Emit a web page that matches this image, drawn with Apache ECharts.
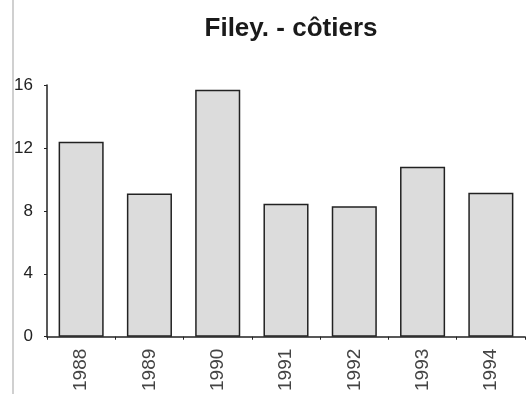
<!DOCTYPE html>
<html>
<head>
<meta charset="utf-8">
<script src="https://cdn.jsdelivr.net/npm/echarts@6/dist/echarts.min.js"></script>
<style>
  html, body { margin: 0; padding: 0; background: #fff; }
  #chart { width: 528px; height: 394px; }
</style>
</head>
<body>
<div id="chart"></div>
<script>
// données
var years = ['1988', '1989', '1990', '1991', '1992', '1993', '1994'];
var values = [12.4, 9.1, 15.7, 8.45, 8.3, 10.8, 9.15];
var yTicks = [0, 4, 8, 12, 16];

var chart = echarts.init(document.getElementById('chart'), null, { renderer: 'canvas' });

var option = {
  backgroundColor: '#fff',
  animation: false,
  title: {
    text: 'Filey. - côtiers',
    left: 286,
    textAlign: 'center',
    top: 11,
    textStyle: {
      fontFamily: 'Liberation Sans, Arial, sans-serif',
      fontWeight: 'bold',
      fontSize: 26,
      color: '#1a1a1a'
    }
  },
  graphic: [{
    // trait gris du bord gauche (scan)
    type: 'line',
    shape: { x1: 13, y1: 0, x2: 13, y2: 394 },
    style: { stroke: '#d0d0d0', lineWidth: 2 }
  }],
  grid: {
    left: 47,
    right: 3,
    top: 85,
    bottom: 54
  },
  xAxis: {
    type: 'category',
    data: years,
    axisLine: { lineStyle: { color: '#222', width: 1.5 } },
    axisTick: { show: true, length: 3, lineStyle: { color: '#222' } },
    axisLabel: {
      rotate: 90,
      margin: 12,
      fontFamily: 'Liberation Sans Narrow, Arial Narrow, sans-serif',
      fontSize: 19,
      color: '#444'
    }
  },
  yAxis: {
    type: 'value',
    min: yTicks[0],
    max: yTicks[yTicks.length - 1],
    interval: 4,
    splitLine: { show: false },
    axisLine: { show: true, lineStyle: { color: '#222', width: 1.5 } },
    axisTick: { show: true, length: 3, lineStyle: { color: '#222' } },
    axisLabel: {
      margin: 14,
      fontFamily: 'Liberation Sans, Arial, sans-serif',
      fontSize: 17,
      color: '#222'
    }
  },
  series: [{
    type: 'bar',
    data: values,
    barCategoryGap: '34%',
    itemStyle: {
      color: '#dcdcdc',
      borderColor: '#222',
      borderWidth: 1.5
    }
  }]
};

chart.setOption(option);
</script>
</body>
</html>
